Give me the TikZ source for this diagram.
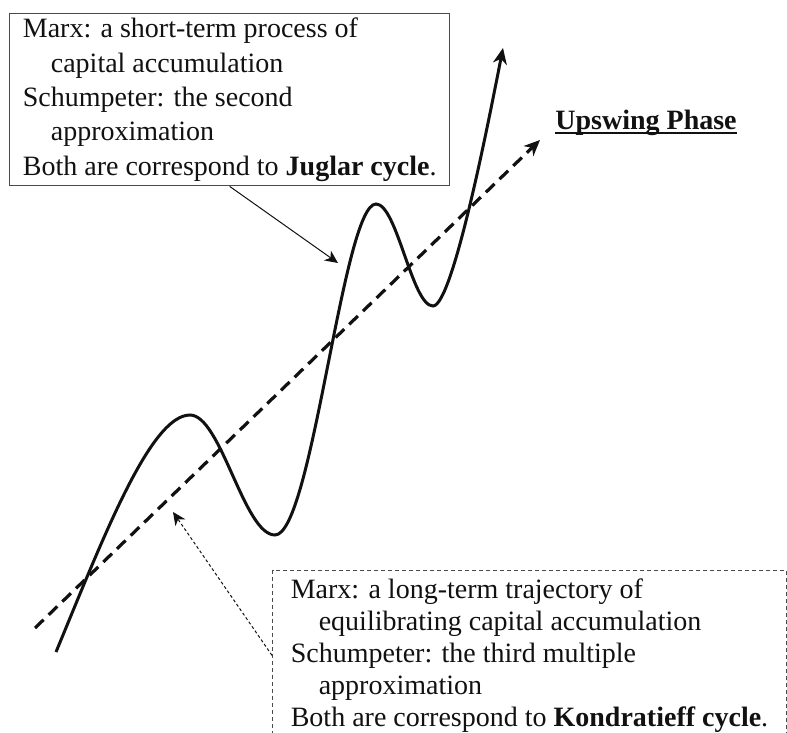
\documentclass[tikz,border=0pt]{standalone}
\usepackage{fontspec}
\setmainfont{Liberation Serif}
\usetikzlibrary{arrows.meta}
\definecolor{ink}{HTML}{111111}
\definecolor{frame}{HTML}{4A4A4A}
\tikzset{
  notebox/.style={rectangle, draw=frame, line width=0.7pt, align=left, inner sep=0pt,
                  text=ink, font=\fontsize{14}{17.2}\selectfont},
  longbox/.style={notebox, line width=0.5pt, dash pattern=on 2pt off 1.5pt,
                  font=\fontsize{14}{16}\selectfont},
  phase/.style={anchor=base west, inner sep=0pt, text=ink, font=\fontsize{14}{17}\selectfont\bfseries},
  trend/.style={line width=1.5pt, color=ink, -{Stealth[length=8pt,width=7pt,inset=2.5pt]}},
  axis/.style={line width=1.6pt, color=ink, dash pattern=on 6pt off 3.5pt,
               -{Stealth[length=8pt,width=7pt,inset=2.5pt]}},
  arrow/.style={line width=0.5pt, color=ink, -{Stealth[length=6.5pt,width=6pt,inset=2pt]}}
}

\begin{document}
\begin{tikzpicture}[x=0.5pt, y=-0.5pt]
  \clip (0,0) rectangle (787,733);
  % upswing line and the cycles on it
  \draw [axis] (35,628) -- (540,140);
  \draw [trend] (56,652) .. controls (102,541) and (150,415) .. (190,415)
    .. controls (221,415) and (244,535) .. (275,535)
    .. controls (312,535) and (343,204) .. (376,204)
    .. controls (397,204) and (412,306) .. (433,306)
    .. controls (453,306) and (490,114) .. (503,48);
  \node (upswing) [phase] at (555,130) {Upswing Phase};
  \draw [line width=0.7pt, ink] ([yshift=-1.6pt]upswing.base west) -- ([yshift=-1.6pt]upswing.base east);
  % notes
  \node (juglar) [notebox, anchor=north west, minimum width=220pt, minimum height=86pt] at (9,13)
    {Marx: a short-term process of\\\hspace*{1em}capital accumulation\\Schumpeter: the second\\\hspace*{1em}approximation\\Both are correspond to \textbf{Juglar cycle}.};
  \node (kondratieff) [longbox, anchor=north west, minimum width=257pt, minimum height=84pt, inner ysep=4pt] at (272,570)
    {Marx: a long-term trajectory of\\\hspace*{1em}equilibrating capital accumulation\\Schumpeter: the third multiple\\\hspace*{1em}approximation\\Both are correspond to \textbf{Kondratieff cycle}.};
  \coordinate (jtip) at (338,263);
  \coordinate (ktip) at (173,512);
  \draw [arrow] (juglar.south) -- (jtip);
  \draw [arrow, dash pattern=on 1.5pt off 1.2pt] (kondratieff.west) -- (ktip);
\end{tikzpicture}
\end{document}
